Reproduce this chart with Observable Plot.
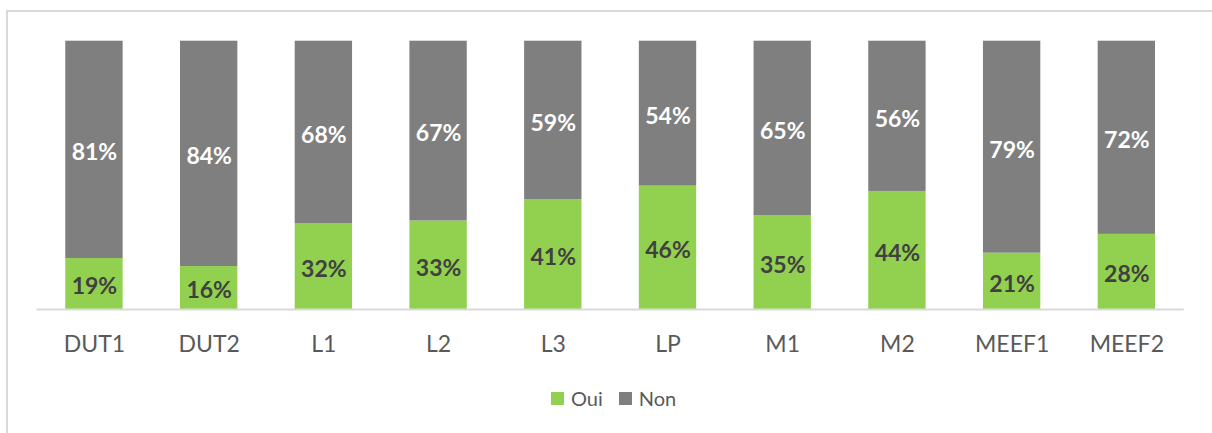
<!DOCTYPE html>
<html>
<head>
<meta charset="utf-8">
<script src="https://cdn.jsdelivr.net/npm/d3@7"></script>
<script src="https://cdn.jsdelivr.net/npm/@observablehq/plot@0.6"></script>
<style>
  html, body { margin: 0; padding: 0; background: #fff; }
  #wrap { position: relative; width: 1212px; height: 433px; overflow: hidden; font-family: Lato, sans-serif; }
  #frame { position: absolute; left: 6px; top: 10px; width: 1300px; height: 500px; border: 2px solid #D9D9D9; box-sizing: border-box; }
  #chart { position: absolute; left: 0; top: 0; }
  #legend { position: absolute; left: 551px; top: 386px; display: flex; align-items: center; font-size: 20px; color: #595959; }
  .item { display: flex; align-items: center; margin-right: 16px; }
  .sw { width: 13px; height: 13px; margin-right: 7px; }
</style>
</head>
<body>
<div id="wrap">
  <div id="frame"></div>
  <div id="chart"></div>
  <div id="legend"></div>
</div>
<script>
const categories = ["DUT1", "DUT2", "L1", "L2", "L3", "LP", "M1", "M2", "MEEF1", "MEEF2"];
const oui = [19, 16, 32, 33, 41, 46, 35, 44, 21, 28];
const non = [81, 84, 68, 67, 59, 54, 65, 56, 79, 72];
const series = ["Oui", "Non"];
const seriesColors = {Oui: "#92D050", Non: "#7F7F7F"};
const labelColors = {Oui: "#404040", Non: "#FFFFFF"};

const data = [];
categories.forEach((c, i) => {
  data.push({cat: c, serie: "Oui", value: oui[i]});
  data.push({cat: c, serie: "Non", value: non[i]});
});

const chart = Plot.plot({
  width: 1212,
  height: 375,
  marginLeft: 36.6,
  marginRight: 28.3,
  marginTop: 40.7,
  marginBottom: 66,
  style: {fontFamily: "Lato, sans-serif", background: "transparent"},
  x: {domain: categories, paddingInner: 0.5, paddingOuter: 0.25, round: false, label: null},
  y: {domain: [0, 100], axis: null},
  color: {type: "identity"},
  marks: [
    Plot.barY(data, Plot.stackY({x: "cat", y: "value", order: series, fill: d => seriesColors[d.serie]})),
    Plot.ruleY([0], {stroke: "#D9D9D9", strokeWidth: 2}),
    Plot.text(data, Plot.stackY({x: "cat", y: "value", order: series,
      text: d => d.value + "%", fill: d => labelColors[d.serie],
      fontSize: 23, fontWeight: "bold", dy: 3})),
    Plot.axisX({tickSize: 0, tickPadding: 26, fontSize: 23, color: "#595959", label: null})
  ]
});
document.getElementById("chart").appendChild(chart);

const legend = document.getElementById("legend");
series.forEach(s => {
  const item = document.createElement("div");
  item.className = "item";
  const sw = document.createElement("div");
  sw.className = "sw";
  sw.style.background = seriesColors[s];
  const t = document.createElement("span");
  t.textContent = s;
  item.appendChild(sw);
  item.appendChild(t);
  legend.appendChild(item);
});
</script>
</body>
</html>
